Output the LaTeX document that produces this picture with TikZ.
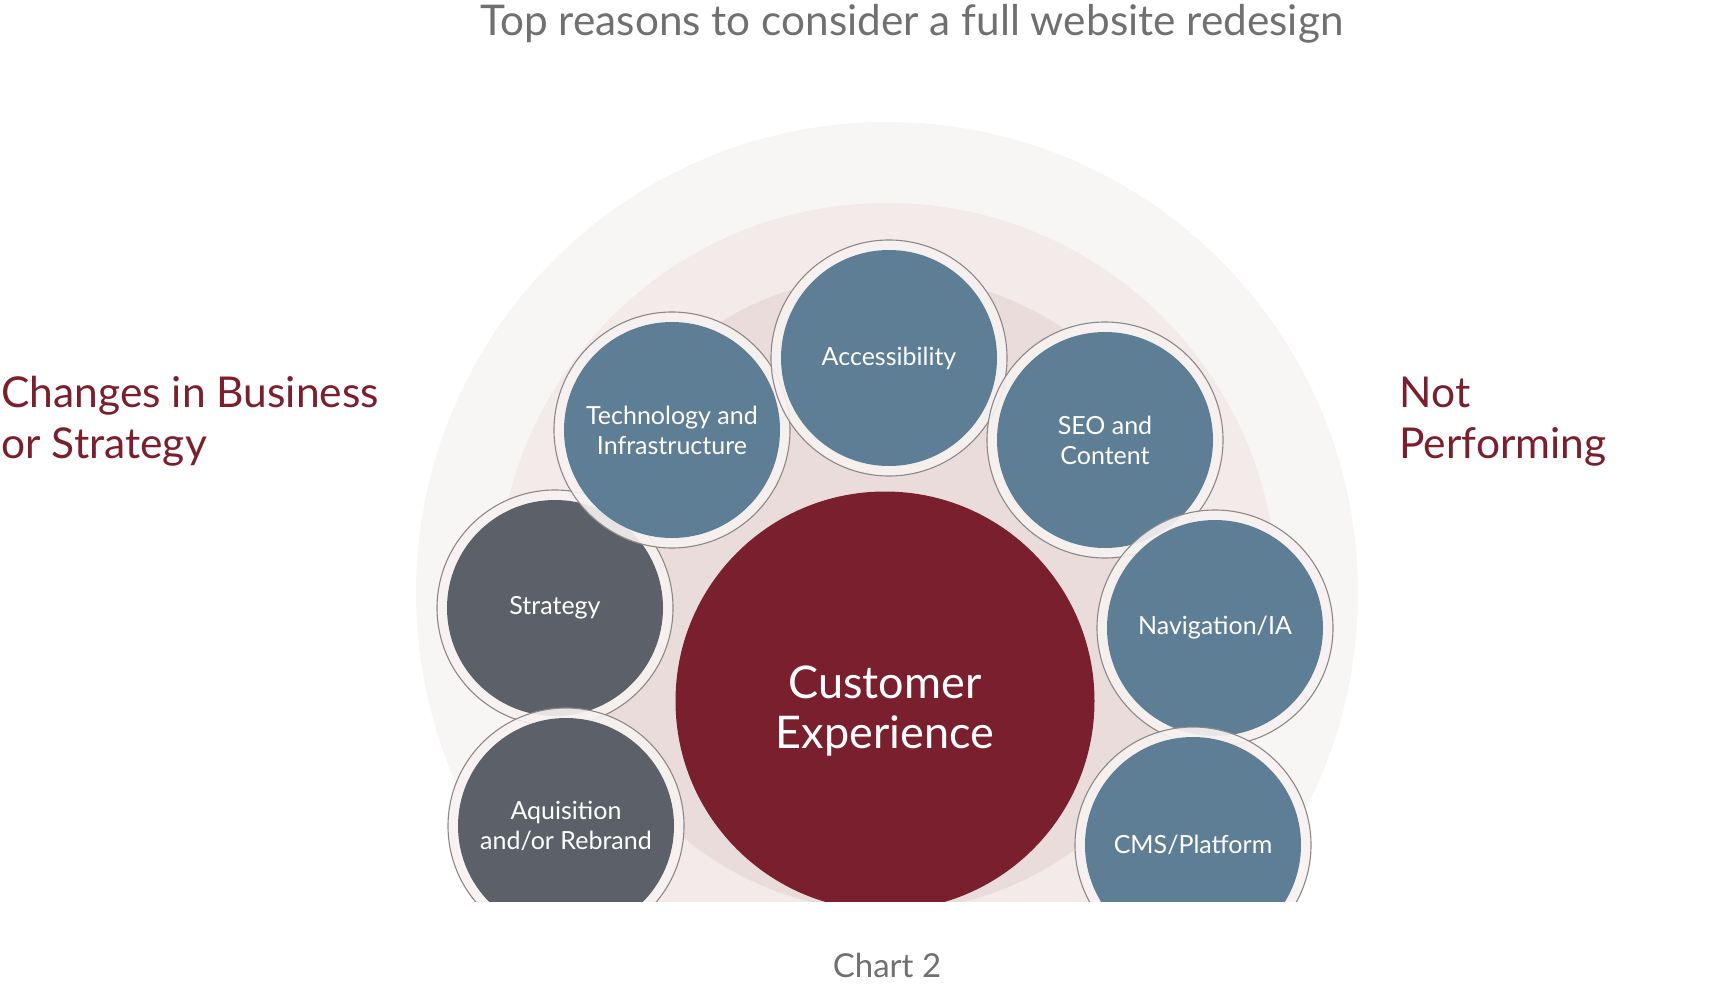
\documentclass[tikz,border=0pt]{standalone}
\usepackage{fontspec}
\setmainfont{Lato}
\usetikzlibrary{positioning}
\definecolor{custred}{HTML}{791F2D}
\definecolor{bubblue}{HTML}{5E7E96}
\definecolor{bubgray}{HTML}{5C6169}
\definecolor{ringwhite}{HTML}{F7F2F1}
\definecolor{ringline}{HTML}{8C8888}
\definecolor{labred}{HTML}{7B1F2D}
\definecolor{textgray}{HTML}{707070}
\definecolor{ringA}{HTML}{F8F5F5}
\definecolor{ringB}{HTML}{F3EAEA}
\definecolor{ringC}{HTML}{EADCDA}
\tikzset{
  ring/.style={circle, inner sep=0pt, draw=none, minimum size=#1},
  bubble/.style={circle, minimum size=236pt, inner sep=0pt, draw=ringline, line width=1.1pt,
    fill=ringwhite, fill opacity=.9, text opacity=1, text=white, align=center,
    font=\fontsize{25}{30}\selectfont,
    path picture={\fill[#1, fill opacity=1] (path picture bounding box.center) circle (108pt);}},
  side/.style={text=labred, align=left, font=\fontsize{42.5}{51}\selectfont},
}
\begin{document}
\begin{tikzpicture}[x=1pt,y=-1pt]
  \useasboundingbox (0,0) rectangle (1729,990);
  \node[anchor=base, text=textgray, font=\fontsize{42.3}{48}\selectfont] (Title) at (912,36) {Top reasons to consider a full website redesign};
  \begin{scope}
    \clip (0,0) rectangle (1729,901);
    \node[ring=942pt, fill=ringA] (OuterRing) at (887,593) {};
    \node[ring=780pt, fill=ringB] (MidRing) at (887,593) {};
    \node[ring=636pt, fill=ringC] (InnerRing) at (887,593) {};
    \node[circle, minimum size=419pt, inner sep=0pt, fill=custred, text=white, align=center,
      font=\fontsize{45}{50}\selectfont] (Cust) at (885,701) {};
    \node[text=white, align=center, font=\fontsize{45}{50}\selectfont] (CustText) at (885,711) {Customer\\Experience};
    \node[bubble=bubgray, on grid, above left=93pt and 330pt of Cust] (Strat) {Strategy};
    \node[bubble=bubblue, on grid, above left=271pt and 213pt of Cust] (Tech) {Technology and\\Infrastructure};
    \node[bubble=bubblue, on grid, above right=343pt and 4pt of Cust] (Access) {Accessibility};
    \node[bubble=bubblue, on grid, above right=261pt and 220pt of Cust] (Seo) {SEO and\\Content};
    \node[bubble=bubblue, on grid, above right=73pt and 330pt of Cust] (Nav) {Navigation/IA};
    \node[bubble=bubgray, on grid, below left=125pt and 319pt of Cust] (Acq) {Aquisition\\and/or Rebrand};
    \node[bubble=bubblue, on grid, below right=144pt and 308pt of Cust] (Cms) {CMS/Platform};
  \end{scope}
  % multi-line nodes sit on the baseline of their last line
  \node[side, anchor=base west] (Changes) at (-2,458) {Changes in Business\\or Strategy};
  \node[side, anchor=base west] (NotPerf) at (1396,458) {Not\\Performing};
  \node[anchor=base, text=textgray, font=\fontsize{33}{38}\selectfont] (Chart) at (887,977) {Chart 2};
\end{tikzpicture}
\end{document}
